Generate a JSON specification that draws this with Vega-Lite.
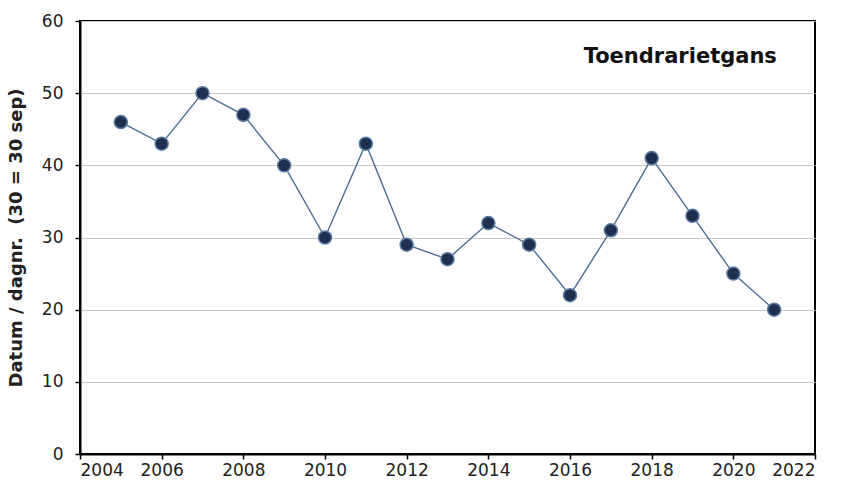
{
  "$schema": "https://vega.github.io/schema/vega-lite/v6.json",
  "width": 735,
  "height": 433,
  "autosize": {"type": "none"},
  "padding": {"left": 80, "top": 21, "right": 28, "bottom": 40},
  "background": "white",
  "config": {
    "view": {"stroke": "black", "strokeWidth": 2},
    "font": "DejaVu Sans"
  },
  "data": {
    "values": [
      {"year": 2005, "value": 46},
      {"year": 2006, "value": 43},
      {"year": 2007, "value": 50},
      {"year": 2008, "value": 47},
      {"year": 2009, "value": 40},
      {"year": 2010, "value": 30},
      {"year": 2011, "value": 43},
      {"year": 2012, "value": 29},
      {"year": 2013, "value": 27},
      {"year": 2014, "value": 32},
      {"year": 2015, "value": 29},
      {"year": 2016, "value": 22},
      {"year": 2017, "value": 31},
      {"year": 2018, "value": 41},
      {"year": 2019, "value": 33},
      {"year": 2020, "value": 25},
      {"year": 2021, "value": 20}
    ]
  },
  "encoding": {
    "x": {
      "field": "year", "type": "quantitative",
      "scale": {"domain": [2004, 2022], "nice": false, "zero": false},
      "axis": {
        "values": [2004, 2006, 2008, 2010, 2012, 2014, 2016, 2018, 2020, 2022],
        "format": "d", "title": null, "grid": false,
        "domainColor": "black", "domainWidth": 2,
        "tickColor": "black", "tickWidth": 1.5, "tickSize": 5,
        "labelFontSize": 17, "labelColor": "#222", "labelPadding": 3,
        "labelFont": "DejaVu Sans"
      }
    },
    "y": {
      "field": "value", "type": "quantitative",
      "scale": {"domain": [0, 60], "nice": false},
      "axis": {
        "values": [0, 10, 20, 30, 40, 50, 60],
        "title": "Datum / dagnr. \u00a0(30 = 30 sep)",
        "titleFontSize": 18, "titleFontWeight": "bold", "titleColor": "#222",
        "titleFont": "DejaVu Sans", "titlePadding": 16,
        "grid": true, "gridColor": "#c8c8c8", "gridWidth": 1.2,
        "domainColor": "black", "domainWidth": 2,
        "tickColor": "black", "tickWidth": 1.5, "tickSize": 5,
        "labelFontSize": 17, "labelColor": "#222", "labelPadding": 12,
        "labelFont": "DejaVu Sans"
      }
    }
  },
  "layer": [
    {
      "mark": {"type": "line", "color": "#4f6d92", "strokeWidth": 1.4}
    },
    {
      "mark": {"type": "point", "filled": true, "fill": "#1e2f4f", "stroke": "#5b7aa3", "strokeWidth": 1.5, "size": 170, "opacity": 1, "shape": "circle"}
    },
    {
      "data": {"values": [{"x": 2018.7, "y": 55, "label": "Toendrarietgans"}]},
      "mark": {"type": "text", "fontSize": 21, "fontWeight": "bold", "color": "#111", "font": "DejaVu Sans", "align": "center", "baseline": "middle"},
      "encoding": {
        "x": {"field": "x", "type": "quantitative"},
        "y": {"field": "y", "type": "quantitative"},
        "text": {"field": "label"}
      }
    }
  ]
}
